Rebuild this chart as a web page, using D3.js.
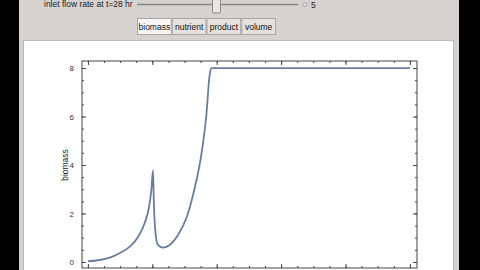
<!DOCTYPE html>
<html>
<head>
<meta charset="utf-8">
<script src="https://cdn.jsdelivr.net/npm/d3@7"></script>
<style>
  body { margin: 0; background: #000; }
  svg { display: block; }
</style>
</head>
<body>
<svg id="chart" width="480" height="270"></svg>
<script>
// biomass curve (t in hr)
var timeHr = [0, 1.8, 3.4, 4.9, 6.5, 7.8, 8.8, 9.5, 9.85, 10.1, 10.25, 10.47, 10.87, 11.65, 12.69, 13.98, 15.28, 16.57, 17.6, 18.39, 18.9, 19.16, 50];
var biomass = [0.03, 0.08, 0.18, 0.36, 0.63, 1.04, 1.6, 2.28, 2.97, 3.78, 2.35, 1.25, 0.7, 0.59, 0.7, 1.11, 1.8, 3.04, 4.41, 6.06, 7.71, 8.0, 8.0];

var yTicks = [0, 2, 4, 6, 8];
var xTicks = [0, 10, 20, 30, 40, 50];
var tabs = ["biomass", "nutrient", "product", "volume"];
var sliderLabel = "inlet flow rate at t=28 hr";
var sliderValue = "5";

var svg = d3.select("#chart");

// grey window panel
svg.append("rect").attr("x", 19).attr("y", 0).attr("width", 440).attr("height", 270).attr("fill", "#d6d2cf");
svg.append("rect").attr("x", 23.5).attr("y", 40.5).attr("width", 430).attr("height", 240)
    .attr("fill", "#fff").attr("stroke", "#bdb8b5");

// slider row
svg.append("text").attr("x", 44).attr("y", 7).attr("font-family", "Liberation Sans, Arial, sans-serif")
    .attr("font-size", 8.5).attr("fill", "#222").text(sliderLabel);
svg.append("line").attr("x1", 137).attr("x2", 298).attr("y1", 4.5).attr("y2", 4.5)
    .attr("stroke", "#8a8683").attr("stroke-width", 1.5);
svg.append("rect").attr("x", 212.5).attr("y", -2).attr("width", 8).attr("height", 15).attr("rx", 1)
    .attr("fill", "#e8e5e2").attr("stroke", "#8d8986");
svg.append("circle").attr("cx", 305).attr("cy", 4.5).attr("r", 2).attr("fill", "#e0dcd9").attr("stroke", "#aaa");
svg.append("text").attr("x", 311).attr("y", 8).attr("font-family", "Liberation Sans, Arial, sans-serif")
    .attr("font-size", 8.5).attr("fill", "#222").text(sliderValue);

// setter bar
var tabX = d3.scaleBand().domain(tabs).range([137, 275]).paddingInner(0.03);
var tabG = svg.append("g");
tabG.selectAll("rect").data(tabs).enter().append("rect")
    .attr("x", function (d) { return tabX(d) + 0.5; })
    .attr("y", 18.5)
    .attr("width", tabX.bandwidth())
    .attr("height", 16)
    .attr("fill", function (d, i) { return i == 0 ? "#f7f6f5" : "#e4e1df"; })
    .attr("stroke", "#a9a5a2");
tabG.selectAll("text").data(tabs).enter().append("text")
    .attr("x", function (d) { return tabX(d) + tabX.bandwidth() / 2 + 0.5; })
    .attr("y", 30)
    .attr("text-anchor", "middle")
    .attr("font-family", "Liberation Sans, Arial, sans-serif")
    .attr("font-size", 8.5)
    .attr("fill", "#111")
    .text(function (d) { return d; });

// plot frame
var pLeft = 82, pRight = 417, pTop = 61, pBottom = 268;
var x = d3.scaleLinear().domain([-0.92, 51.1]).range([pLeft, pRight]);
var y = d3.scaleLinear().domain([-0.25, 8.29]).range([pBottom, pTop]);

var xMinor = d3.range(0, 50.1, 2.5);
var yMinor = d3.range(0, 8.1, 0.5);

function styleAxis(g) {
  g.select(".domain").remove();
  g.selectAll(".tick line").attr("stroke", "#444");
  g.selectAll(".tick text").attr("fill", "#333").attr("font-family", "Liberation Sans, Arial, sans-serif").attr("font-size", 8);
}

var axisL = svg.append("g").attr("transform", "translate(" + pLeft + ",0)")
    .call(d3.axisLeft(y).tickValues(yMinor).tickSize(-2).tickFormat(""));
styleAxis(axisL);
var axisL2 = svg.append("g").attr("transform", "translate(" + pLeft + ",0)")
    .call(d3.axisLeft(y).tickValues(yTicks).tickSize(-4).tickPadding(8).tickFormat(d3.format("d")));
styleAxis(axisL2);

var axisR = svg.append("g").attr("transform", "translate(" + pRight + ",0)")
    .call(d3.axisRight(y).tickValues(yMinor).tickSize(-2).tickFormat(""));
styleAxis(axisR);
var axisR2 = svg.append("g").attr("transform", "translate(" + pRight + ",0)")
    .call(d3.axisRight(y).tickValues(yTicks).tickSize(-4).tickFormat(""));
styleAxis(axisR2);

var axisT = svg.append("g").attr("transform", "translate(0," + pTop + ")")
    .call(d3.axisTop(x).tickValues(xMinor).tickSize(-2).tickFormat(""));
styleAxis(axisT);
var axisT2 = svg.append("g").attr("transform", "translate(0," + pTop + ")")
    .call(d3.axisTop(x).tickValues(xTicks).tickSize(-4).tickFormat(""));
styleAxis(axisT2);

// bottom axis: its labels fall below the window in the reference, so ticks only
var axisB = svg.append("g").attr("transform", "translate(0," + pBottom + ")")
    .call(d3.axisBottom(x).tickValues(xMinor).tickSize(-2).tickFormat(""));
styleAxis(axisB);
var axisB2 = svg.append("g").attr("transform", "translate(0," + pBottom + ")")
    .call(d3.axisBottom(x).tickValues(xTicks).tickSize(-4).tickFormat(""));
styleAxis(axisB2);

svg.append("rect").attr("x", pLeft).attr("y", pTop).attr("width", pRight - pLeft).attr("height", pBottom - pTop)
    .attr("fill", "none").attr("stroke", "#444").attr("stroke-width", 1);

// y label
svg.append("text")
    .attr("transform", "translate(68," + y(4) + ") rotate(-90)")
    .attr("text-anchor", "middle")
    .attr("font-family", "Liberation Sans, Arial, sans-serif")
    .attr("font-size", 8.5)
    .attr("fill", "#222")
    .text("biomass");

// curve
var pts = timeHr.map(function (t, i) { return [t, biomass[i]]; });
var line = d3.line()
    .x(function (d) { return x(d[0]); })
    .y(function (d) { return y(d[1]); })
    .curve(d3.curveMonotoneX);

svg.append("path")
    .datum(pts)
    .attr("fill", "none")
    .attr("stroke", "#6a7d9f")
    .attr("stroke-width", 1.8)
    .attr("stroke-linejoin", "round")
    .attr("d", line);
</script>
</body>
</html>
